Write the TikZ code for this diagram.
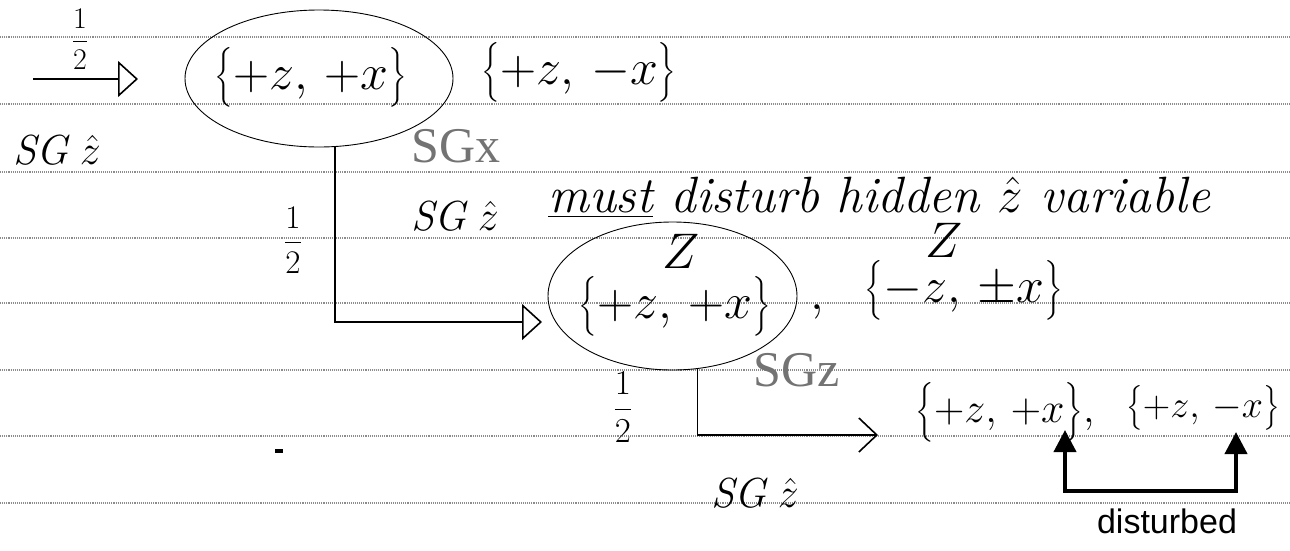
\RequirePackage{fix-cm}
\documentclass[tikz,border=0pt]{standalone}
\usepackage{amsmath}
\usepackage{fontspec}
\newfontfamily\sansfnt{Liberation Sans}
\newfontfamily\seriffnt{Liberation Serif}
\usetikzlibrary{arrows.meta,positioning,shapes.geometric}

\begin{document}
\begin{tikzpicture}[
  x=1pt, y=-1pt,
  rule/.style={draw=black!45, densely dotted, line width=1.1pt},
  hand/.style={font=\fontsize{50}{60}\selectfont, inner sep=0pt},
  handsmall/.style={font=\fontsize{42}{50}\selectfont, inner sep=0pt},
  note/.style={font=\fontsize{42}{50}\selectfont\itshape, inner sep=0pt},
  remark/.style={font=\fontsize{51}{60}\selectfont\itshape, inner sep=0pt},
  frac/.style={font=\fontsize{33}{40}\selectfont, inner sep=0pt},
  typed/.style={font=\fontsize{50}{60}\selectfont\seriffnt, text=black!55, inner sep=0pt},
  loop/.style={draw, ellipse, line width=0.9pt, inner sep=0pt},
  flow/.style={draw, line width=1.6pt},
  fat/.style={draw, line width=4pt},
  opentip/.style={-{Triangle[open, length=20pt, width=36pt, line width=1.6pt]}}
]
  \useasboundingbox (0,0) rectangle (1290,550);
  % ruled lines of the notebook page
  \foreach \y in {37,104,172,238,303,370,436,503}
    \draw[rule] (0,\y) -- (1290,\y);

  % first measurement
  \node[frac, font=\fontsize{30}{36}\selectfont] (hA) at (80,39) {$\dfrac{1}{2}$};
  \coordinate (inL) at (33,79);
  \coordinate (inR) at (138,79);
  \draw[flow, opentip] (inL) -- (inR);
  \node[note] (gA) at (57,150) {SG\;$\hat{z}$};
  \node[loop, minimum width=268pt, minimum height=137pt] (eA) at (319,78.5) {};
  \node[hand] (sA) at (311,77) {$\bigl\{+z,\,+x\bigr\}$};
  \node[hand] (sAb) at (579,72) {$\bigl\{+z,\,-x\bigr\}$};
  \node[typed] (tX) at (456,146) {SGx};

  % second measurement
  \node[note] (gB) at (455,216) {SG\;$\hat{z}$};
  \node[frac] (hB) at (293,240) {$\dfrac{1}{2}$};
  \node[remark, anchor=base west] (msg) at (548,212)
    {\underline{must} disturb hidden $\hat{z}$ variable};
  \node[loop, minimum width=249pt, minimum height=148pt] (eB) at (672.5,296) {};
  \node[hand] (zA) at (681,251) {$Z$};
  \node[hand] (sB) at (675,306) {$\bigl\{+z,\,+x\bigr\}$};
  \node[hand] (cB) at (817,312) {$,$};
  \node[hand] (zB) at (944,240) {$Z$};
  \node[hand] (sBb) at (964,290) {$\bigl\{-z,\,\pm x\bigr\}$};
  \coordinate (tipA) at (542,322);
  \draw[flow, opentip] (eA.-77) |- (tipA);
  \node[typed] (tZ) at (797,370) {SGz};

  % third measurement
  \node[frac, font=\fontsize{35}{42}\selectfont] (hC) at (623,407) {$\dfrac{1}{2}$};
  \coordinate (tipB) at (878,435);
  \draw[flow, -{Straight Barb[length=18pt, width=34pt, line width=1.6pt]}] (eB.-71) |- (tipB);
  \node[note] (gC) at (755,493) {SG\;$\hat{z}$};
  \node[handsmall] (sC) at (1005,412) {$\bigl\{+z,\,+x\bigr\},$};
  \node[handsmall, font=\fontsize{38}{46}\selectfont] (sCb) at (1203,408) {$\bigl\{+z,\,-x\bigr\}$};
  \fill (275,449) rectangle (283,453);

  % the two disturbed states
  \coordinate (pL) at (1065,430);
  \coordinate (qL) at (1065,491);
  \coordinate (qR) at (1236,491);
  \coordinate (pR) at (1236,432);
  \draw[fat, {Triangle[length=22pt, width=22pt]}-{Triangle[length=22pt, width=22pt]}]
    (pL) -- (qL) -- (qR) -- (pR);
  \node[font=\fontsize{34}{40}\selectfont\sansfnt, inner sep=0pt] (dist) at (1167,521) {disturbed};
\end{tikzpicture}
\end{document}
